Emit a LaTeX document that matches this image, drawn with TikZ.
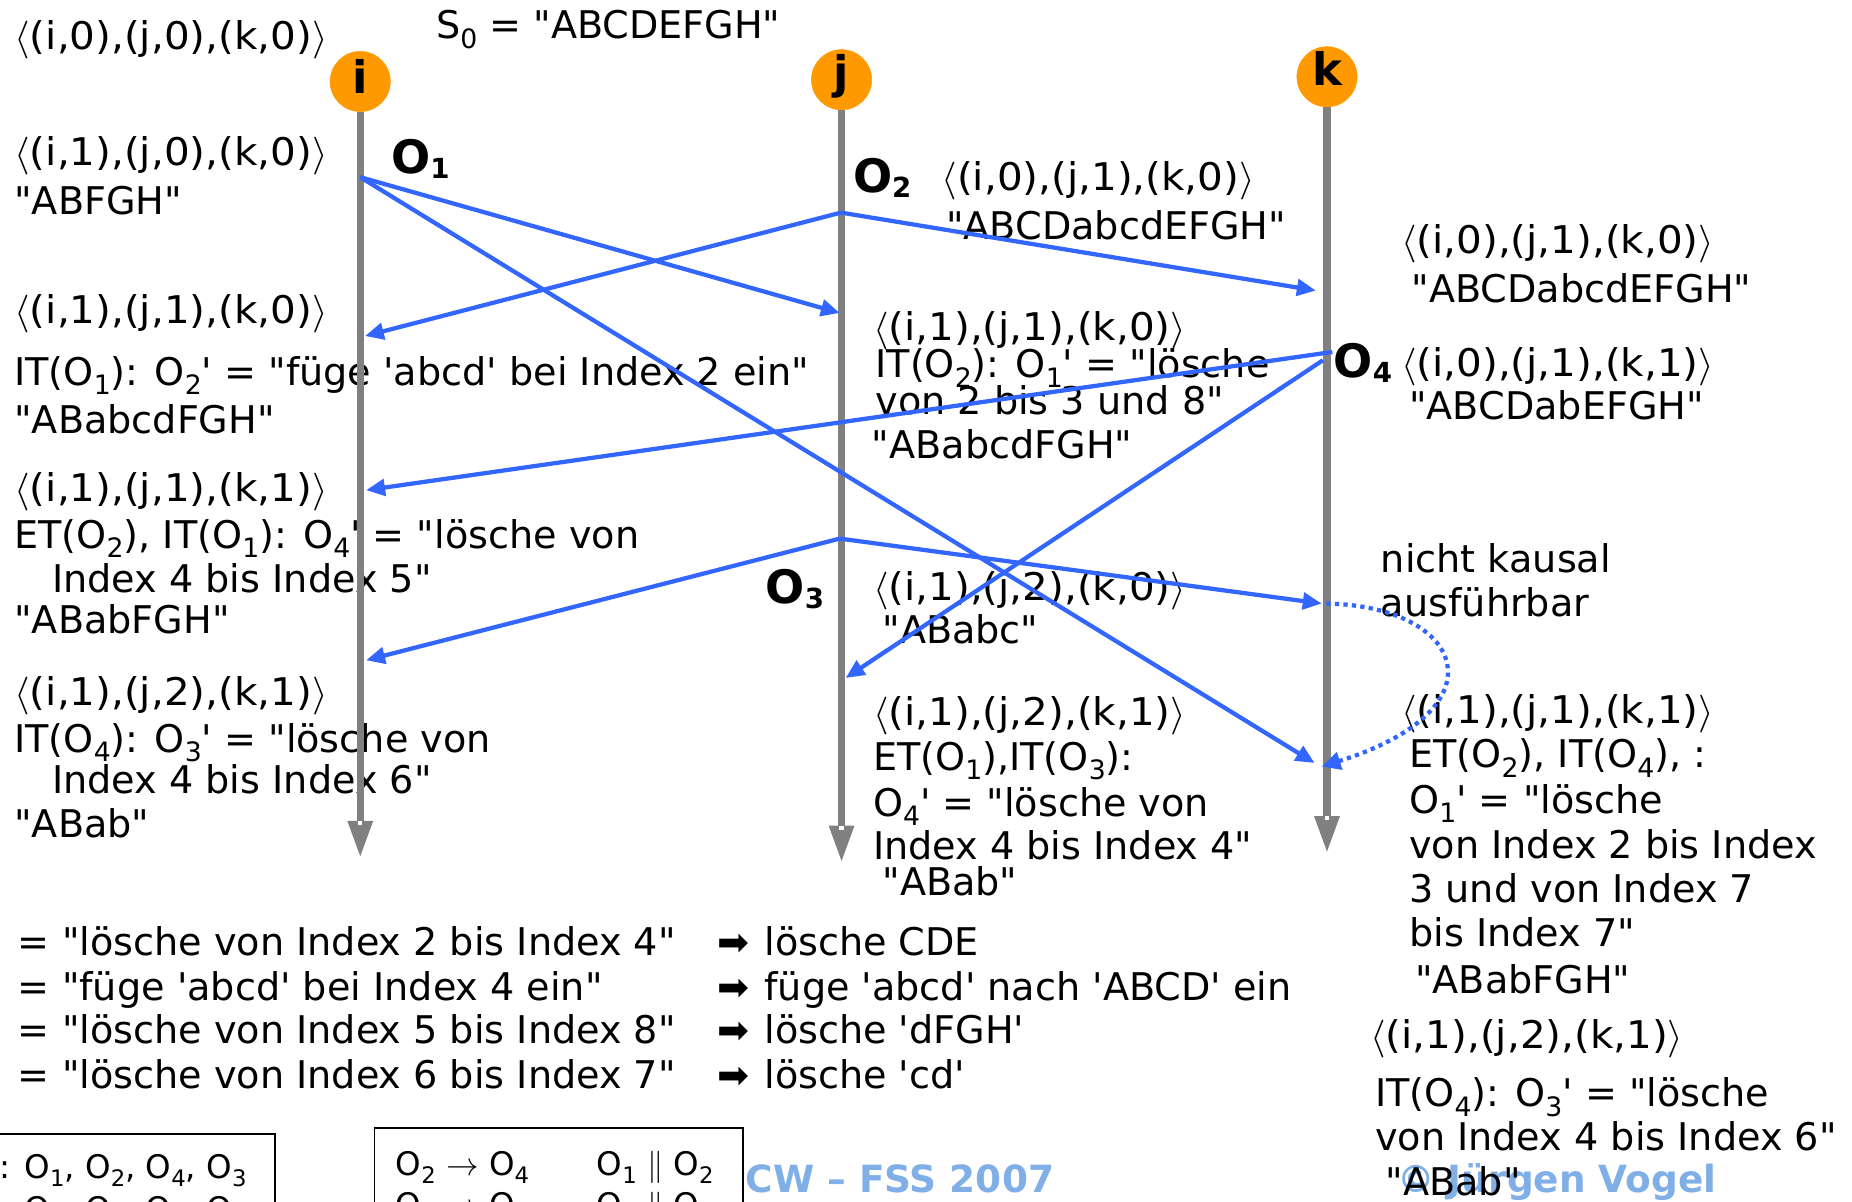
\documentclass[tikz,border=0pt]{standalone}
\usepackage{fontspec}
\setmainfont{DejaVu Sans}[Ligatures=TeXOff]
\usepackage{graphicx}
\usetikzlibrary{arrows.meta}

\definecolor{procorange}{RGB}{255,153,0}
\definecolor{msgblue}{RGB}{51,102,255}
\definecolor{lifegray}{RGB}{128,128,128}
\definecolor{footblue}{RGB}{128,174,230}

% subscripts in running text and in the bold operation labels
\newcommand\lo[1]{\raisebox{-0.25em}{\scalebox{0.7}{#1}}}
\newcommand\blo[1]{\raisebox{-0.1em}{\scalebox{0.6}{#1}}}
% math symbols set at 10pt and enlarged to the text size
\newcommand\msym[1]{\scalebox{3.2}{\fontsize{10}{12}\selectfont$#1$}}
\newcommand\bsym[1]{\scalebox{2.75}{\fontsize{10}{12}\selectfont$#1$}}
% state vector < (i,a),(j,b),(k,c) >, set a little wider
\newcommand\vt[3]{\scalebox{1.06}[1]{\msym{\langle}(i,#1),(j,#2),(k,#3)\msym{\rangle}}}

\tikzset{
  txt/.style={anchor=base west, inner sep=0pt, font=\fontsize{32.3}{38}\selectfont},
  boxtxt/.style={anchor=base west, inner sep=0pt, font=\fontsize{27.5}{33}\selectfont},
  oplabel/.style={anchor=base west, inner sep=0pt, font=\fontsize{39}{44}\selectfont\bfseries},
  foot/.style={anchor=base west, inner sep=0pt, text=footblue, font=\fontsize{31.7}{38}\selectfont\bfseries},
  proc/.style={circle, fill=procorange, draw=procorange, minimum size=51pt, inner sep=0pt},
  proclet/.style={anchor=base, inner sep=0pt, font=\fontsize{38}{44}\selectfont\bfseries},
  life/.style={draw=lifegray, line width=6pt, -{Triangle[length=31pt,width=20pt]}},
  msg/.style={draw=msgblue, line width=3.6pt, -{Triangle[length=16pt,width=14pt]}},
  wait/.style={draw=msgblue, line width=3.6pt, dash pattern=on 3.6pt off 3.6pt, -{Triangle[length=16pt,width=15pt]}},
  boxline/.style={draw=black, line width=1.5pt},
}

\begin{document}
\begin{tikzpicture}[x=1pt,y=-1pt]
\useasboundingbox (0,0) rectangle (1568,1017);
\clip (0,0) rectangle (1568,1017);

% footer, lies beneath the other texts
\node[foot] (footL) at (631,1010) {CW – FSS 2007};
\node[foot] (footR) at (1183,1010) {© Jürgen Vogel};

% ---------- process i ----------
\node[txt] (s0) at (369,33) {S\lo{0} = "ABCDEFGH"};
\node[txt] (iv0) at (12,41.5) {\vt000};
\node[txt] (iv1) at (12,140) {\vt100};
\node[txt] (is1) at (12,182) {"ABFGH"};
\node[txt] (iv2) at (12,274) {\vt110};
\node[txt] (it2) at (12,326) {IT(O\lo{1}): O\lo{2}' = "füge 'abcd' bei Index 2 ein"};
\node[txt] (is2) at (12,367) {"ABabcdFGH"};
\node[txt] (iv3) at (12,425) {\vt111};
\node[txt] (it3a) at (12,464) {ET(O\lo{2}), IT(O\lo{1}): O\lo{4}' = "lösche von};
\node[txt] (it3b) at (44,502) {Index 4 bis Index 5"};
\node[txt] (is3) at (12,536) {"ABabFGH"};
\node[txt] (iv4) at (12,597) {\vt121};
\node[txt] (it4a) at (12,637) {IT(O\lo{4}): O\lo{3}' = "lösche von};
\node[txt] (it4b) at (44,672) {Index 4 bis Index 6"};
\node[txt] (is4) at (12,709) {"ABab"};

% ---------- process j ----------
\node[txt] (jv1) at (797,161) {\vt010};
\node[txt] (js1) at (801,203) {"ABCDabcdEFGH"};
\node[txt] (jv2) at (739,288) {\vt110};
\node[txt] (jt2a) at (741,320) {IT(O\lo{2}): O\lo{1}' = "lösche};
\node[txt] (jt2b) at (741,351) {von 2 bis 3 und 8"};
\node[txt] (js2) at (738,388) {"ABabcdFGH"};
\node[txt] (jv3) at (739,508) {\vt120};
\node[txt] (js3) at (747,545) {"ABabc"};
\node[txt] (jv4) at (739,614) {\vt121};
\node[txt] (jt4a) at (739,652) {ET(O\lo{1}),IT(O\lo{3}):};
\node[txt] (jt4b) at (739,691) {O\lo{4}' = "lösche von};
\node[txt] (jt4c) at (739,728) {Index 4 bis Index 4"};
\node[txt] (js4) at (747,758) {"ABab"};

% ---------- process k ----------
\node[txt] (kv1) at (1186,215) {\vt010};
\node[txt] (ks1) at (1195,256) {"ABCDabcdEFGH"};
\node[txt] (kv2) at (1186,319) {\vt011};
\node[txt] (ks2) at (1193,355) {"ABCDabEFGH"};
\node[txt] (kn1) at (1169,485) {nicht kausal};
\node[txt] (kn2) at (1169,522) {ausführbar};
\node[txt] (kv3) at (1186,612.5) {\vt111};
\node[txt] (kt3a) at (1193,650) {ET(O\lo{2}), IT(O\lo{4}), :};
\node[txt] (kt3b) at (1193,688.5) {O\lo{1}' = "lösche};
\node[txt] (kt3c) at (1193,726.5) {von Index 2 bis Index};
\node[txt] (kt3d) at (1193,764) {3 und von Index 7};
\node[txt] (kt3e) at (1193,801.5) {bis Index 7"};
\node[txt] (ks3) at (1198,841) {"ABabFGH"};
\node[txt] (kv4) at (1160,888) {\vt121};
\node[txt] (kt4a) at (1164,937) {IT(O\lo{4}): O\lo{3}' = "lösche};
\node[txt] (kt4b) at (1164,974) {von Index 4 bis Index 6"};
\node[txt] (ks4) at (1173,1012) {"ABab"};

% ---------- operation list ----------
\node[txt] (op1) at (15,808.6) {= "lösche von Index 2 bis Index 4"};
\node[txt] (op2) at (15,846.7) {= "füge 'abcd' bei Index 4 ein"};
\node[txt] (op3) at (15,883.3) {= "lösche von Index 5 bis Index 8"};
\node[txt] (op4) at (15,921.5) {= "lösche von Index 6 bis Index 7"};
\node[txt] (ar1) at (607,808.6) {➡};
\node[txt] (ar2) at (607,846.7) {➡};
\node[txt] (ar3) at (607,883.3) {➡};
\node[txt] (ar4) at (607,921.5) {➡};
\node[txt] (ef1) at (647,808.6) {lösche CDE};
\node[txt] (ef2) at (647,846.7) {füge 'abcd' nach 'ABCD' ein};
\node[txt] (ef3) at (647,883.3) {lösche 'dFGH'};
\node[txt] (ef4) at (647,921.5) {lösche 'cd'};

% ---------- boxes: execution order and relations ----------
\draw[boxline, fill=white] (-5,960) rectangle (233,1060);
\draw[boxline, fill=white] (317,955) rectangle (629,1060);
\node[boxtxt] (ord1) at (-8,997.6) {i: O\lo{1}, O\lo{2}, O\lo{4}, O\lo{3}};
\node[boxtxt] (ord2) at (-8,1033) {j: O\lo{2}, O\lo{1}, O\lo{3}, O\lo{4}};
\node[boxtxt] (rel1) at (335,995) {O\lo{2} \bsym{\rightarrow} O\lo{4}};
\node[boxtxt] (rel2) at (505,995) {O\lo{1} \bsym{\parallel} O\lo{2}};
\node[boxtxt] (rel3) at (335,1030) {O\lo{2} \bsym{\rightarrow} O\lo{3}};
\node[boxtxt] (rel4) at (505,1030) {O\lo{1} \bsym{\parallel} O\lo{4}};

% ---------- process lines ----------
\node[proc] (pi) at (305,69) {};
\node[proc] (pj) at (712.5,67.5) {};
\node[proc] (pk) at (1123.5,65) {};
\coordinate (iend) at (305,726);
\coordinate (jend) at (712.5,730);
\coordinate (kend) at (1123.5,722);
\draw[life] (pi.south) -- (iend);
\draw[life] (pj.south) -- (jend);
\draw[life] (pk.south) -- (kend);
\fill[white] (303.2,695) rectangle (306.8,698.5);
\fill[white] (710.7,699) rectangle (714.3,702.5);
\fill[white] (1121.7,691) rectangle (1125.3,694.5);
\node[proclet] (li) at (305,79) {i};
\node[proclet] (lj) at (712.5,75) {j};
\node[proclet] (lk) at (1123.5,72) {k};

% operation labels
\node[oplabel] (lo1) at (331,147) {O\blo{1}};
\node[oplabel] (lo2) at (722,163) {O\blo{2}};
\node[oplabel] (lo3) at (648,511) {O\blo{3}};
\node[oplabel] (lo4) at (1129,320) {O\blo{4}};

% ---------- events on the lines ----------
\coordinate (e1) at (305,150);
\coordinate (e2) at (712,180);
\coordinate (e3) at (711,456);
\coordinate (e4) at (1128,298);
\coordinate (e4b) at (1120,305);
\coordinate (iO2) at (309,284.5);
\coordinate (iO4) at (310,415);
\coordinate (iO3) at (310,559);
\coordinate (jO1) at (711,265);
\coordinate (jO4) at (716,574);
\coordinate (kO2) at (1114,246);
\coordinate (kO3) at (1119,511);
\coordinate (kO1) at (1113,646);
\coordinate (kheld) at (1123,511);
\coordinate (krel) at (1119,649);

% ---------- messages ----------
\draw[msg] (e1) -- (jO1);
\draw[msg] (e1) -- (kO1);
\draw[msg] (e2) -- (iO2);
\draw[msg] (e2) -- (kO2);
\draw[msg] (e4) -- (iO4);
\draw[msg] (e4b) -- (jO4);
\draw[msg] (e3) -- (iO3);
\draw[msg] (e3) -- (kO3);
\draw[wait] (kheld) .. controls (1240,513) and (1275,600) .. (krel);
\end{tikzpicture}
\end{document}
